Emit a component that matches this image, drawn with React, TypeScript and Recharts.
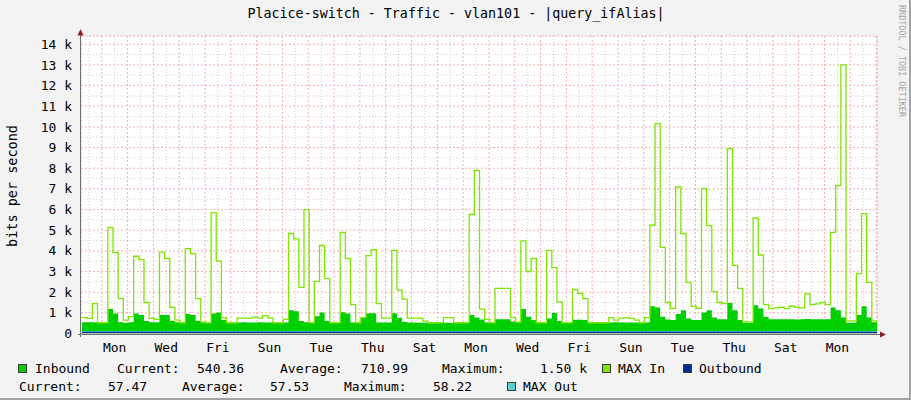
import React from 'react';
import { ComposedChart, Area, Line, XAxis, YAxis, CartesianGrid } from 'recharts';

const FONT = '"DejaVu Sans Mono", "Liberation Mono", monospace';

// one sample every 4.8 h; time is in days counted from the first Monday 00:00
const FIRST_SAMPLE = -0.765;
const SAMPLE_STEP = 0.2;
const X_DOMAIN: [number, number] = [-0.805, 30.035];
const Y_DOMAIN: [number, number] = [0, 14400];

// bits per second
const MAX_IN = [
  770, 730, 1450, 520, 520,
  5130, 3920, 1690, 650, 820,
  3740, 3580, 1500, 730, 680,
  3940, 3630, 1260, 650, 520,
  4110, 3870, 1690, 560, 520,
  5850, 3500, 770, 520, 520,
  740, 740, 740, 790, 740,
  870, 740, 520, 520, 680,
  4840, 4580, 2230, 6000, 520,
  2520, 4260, 2660, 520, 520,
  4890, 3630, 1400, 520, 770,
  3770, 4060, 1450, 740, 740,
  4020, 2100, 1660, 740, 740,
  740, 600, 520, 520, 520,
  770, 770, 520, 520, 520,
  5760, 7900, 1180, 680, 520,
  2180, 2180, 2180, 770, 550,
  4480, 3000, 3630, 520, 520,
  4020, 3190, 1530, 520, 520,
  2130, 1940, 1690, 520, 520,
  520, 520, 770, 650, 740,
  770, 730, 650, 520, 770,
  5240, 10160, 4170, 1500, 1220,
  7090, 4840, 2470, 1310, 1220,
  7010, 5220, 2030, 1500, 1450,
  8950, 3300, 2180, 560, 560,
  5590, 3800, 1400, 1200, 1240,
  1270, 1200, 1320, 1270, 1240,
  1930, 1400, 1430, 1500, 1400,
  4890, 7160, 13000, 610, 610,
  2900, 5800, 2470, 610, 610,
];

const INBOUND = [
  550, 550, 550, 520, 520,
  1180, 970, 550, 520, 550,
  970, 890, 610, 550, 550,
  890, 890, 610, 550, 520,
  940, 890, 610, 530, 520,
  970, 1020, 650, 520, 520,
  530, 540, 530, 530, 540,
  530, 530, 520, 520, 530,
  1130, 1080, 600, 550, 520,
  840, 1020, 610, 520, 520,
  1030, 970, 530, 520, 770,
  980, 980, 530, 530, 530,
  980, 760, 560, 530, 530,
  520, 520, 500, 520, 520,
  520, 510, 520, 520, 520,
  890, 770, 680, 530, 520,
  690, 690, 690, 580, 550,
  1180, 810, 650, 520, 520,
  730, 1000, 610, 520, 520,
  660, 660, 650, 520, 520,
  520, 520, 530, 540, 530,
  530, 530, 530, 520, 530,
  1320, 1260, 810, 680, 650,
  940, 1130, 730, 650, 650,
  1020, 1130, 770, 690, 690,
  1480, 1130, 650, 520, 520,
  1370, 1210, 810, 690, 690,
  690, 690, 690, 680, 690,
  700, 690, 690, 690, 690,
  1260, 1130, 770, 520, 520,
  890, 1320, 770, 540, 540,
];

// outbound is flat, one reading per day
const OUT_TIMES = [
  -0.765, 0.235, 1.235, 2.235, 3.235, 4.235, 5.235, 6.235, 7.235, 8.235, 9.235,
  10.235, 11.235, 12.235, 13.235, 14.235, 15.235, 16.235, 17.235, 18.235, 19.235,
  20.235, 21.235, 22.235, 23.235, 24.235, 25.235, 26.235, 27.235, 28.235, 29.235, 30.035,
];
const OUTBOUND = [
  57.6, 57.5, 57.4, 57.6, 57.5, 57.7, 57.5, 57.4, 57.6, 57.5, 57.5,
  57.6, 57.4, 57.5, 57.6, 57.5, 57.7, 57.5, 57.4, 57.5, 57.6,
  57.5, 57.5, 57.4, 57.6, 57.5, 57.6, 57.5, 57.4, 57.5, 57.5, 57.47,
];
const MAX_OUT = [
  58.0, 57.9, 58.1, 58.0, 57.9, 58.2, 58.0, 57.9, 58.1, 58.0, 58.0,
  58.1, 57.9, 58.0, 58.1, 58.0, 58.2, 58.0, 57.9, 58.0, 58.1,
  58.0, 58.0, 57.9, 58.1, 58.0, 58.1, 58.0, 57.9, 58.0, 58.0, 58.0,
];

const DAY_TICKS = [0.5, 2.5, 4.5, 6.5, 8.5, 10.5, 12.5, 14.5, 16.5, 18.5, 20.5, 22.5, 24.5, 26.5, 28.5];
const DAY_LABELS = ['Mon', 'Wed', 'Fri', 'Sun', 'Tue', 'Thu', 'Sat', 'Mon', 'Wed', 'Fri', 'Sun', 'Tue', 'Thu', 'Sat', 'Mon'];
const Y_TICKS = [0, 1000, 2000, 3000, 4000, 5000, 6000, 7000, 8000, 9000, 10000, 11000, 12000, 13000, 14000];
const Y_MINOR = Y_TICKS.slice(0, 14).map(v => v + 500);
const MIDNIGHTS = Array.from({ length: 31 }, (_, i) => i);
const NOONS = Array.from({ length: 31 }, (_, i) => i - 0.5);

const tickStyle = { fontFamily: FONT, fontSize: 13, fill: '#000' };

const Box = ({ x, y, color }: { x: number; y: number; color: string }) => (
  <rect x={x + 0.5} y={y + 0.5} width={8} height={8} fill={color} stroke="#3c3c3c" strokeWidth={1} />
);

const App: React.FC = () => {
  const table = MAX_IN.map((v, i) => ({
    t: +(FIRST_SAMPLE + i * SAMPLE_STEP).toFixed(3),
    maxIn: v,
    inbound: INBOUND[i],
  }));
  const outTable = OUT_TIMES.map((t, i) => ({ t, outbound: OUTBOUND[i], maxOut: MAX_OUT[i] }));

  return (
    <div style={{ position: 'absolute', left: 0, top: 0, width: 911, height: 400, background: '#F3F3F3' }}>
      <ComposedChart
        width={911}
        height={400}
        data={table}
        margin={{ top: 36, right: 34, bottom: 36.5, left: 21 }}
      >
        <XAxis
          dataKey="t"
          type="number"
          domain={X_DOMAIN}
          allowDataOverflow
          ticks={DAY_TICKS}
          interval={0}
          tickFormatter={(v: number) => DAY_LABELS[DAY_TICKS.indexOf(v)]}
          tick={tickStyle}
          axisLine={false}
          tickLine={false}
          tickSize={0}
          tickMargin={9}
          height={30}
        />
        <XAxis xAxisId="major" dataKey="t" type="number" domain={X_DOMAIN} allowDataOverflow ticks={MIDNIGHTS} interval={0} hide />
        <XAxis xAxisId="minor" dataKey="t" type="number" domain={X_DOMAIN} allowDataOverflow ticks={NOONS} interval={0} hide />
        <YAxis
          type="number"
          domain={Y_DOMAIN}
          allowDataOverflow
          ticks={Y_TICKS}
          interval={0}
          width={60}
          tickFormatter={(v: number) => (v === 0 ? '0' : `${v / 1000} k`)}
          tick={tickStyle}
          axisLine={false}
          tickLine={false}
          tickSize={0}
          tickMargin={9}
        />
        <YAxis yAxisId="minor" type="number" domain={Y_DOMAIN} allowDataOverflow ticks={Y_MINOR} interval={0} hide />
        <CartesianGrid xAxisId="minor" yAxisId="minor" stroke="#D0D0D0" strokeDasharray="1 2" fill="#FFFFFF" fillOpacity={1} />
        <CartesianGrid xAxisId="major" stroke="#F4B2B2" strokeDasharray="2 2" />
        <Area
          type="stepAfter"
          dataKey="inbound"
          fill="#00CF00"
          fillOpacity={1}
          stroke="none"
          dot={false}
          activeDot={false}
          isAnimationActive={false}
        />
        <Line
          type="stepAfter"
          dataKey="maxIn"
          stroke="#7EE600"
          strokeWidth={1.3}
          dot={false}
          activeDot={false}
          isAnimationActive={false}
        />
        <Line
          data={outTable}
          type="stepAfter"
          dataKey="maxOut"
          stroke="#55D1D1"
          strokeWidth={2.5}
          dot={false}
          activeDot={false}
          isAnimationActive={false}
        />
        <Line
          data={outTable}
          type="stepAfter"
          dataKey="outbound"
          stroke="#002A97"
          strokeWidth={1.2}
          dot={false}
          activeDot={false}
          isAnimationActive={false}
        />
      </ComposedChart>

      <svg
        width={911}
        height={400}
        style={{ position: 'absolute', left: 0, top: 0, pointerEvents: 'none' }}
        fontFamily={FONT}
      >
        {/* frame */}
        <rect x={909} y={0} width={2} height={400} fill="#A2A2A2" />
        <rect x={0} y={398} width={911} height={2} fill="#A2A2A2" />

        {/* axes with arrows */}
        <line x1={80.5} y1={32} x2={80.5} y2={337} stroke="#707070" strokeWidth={1} />
        <line x1={78} y1={334.5} x2={881} y2={334.5} stroke="#707070" strokeWidth={1} />
        <polygon points="77.5,35.5 83.5,35.5 80.5,29" fill="#8E1D1D" />
        <polygon points="880,331.5 880,337.5 886,334.5" fill="#8E1D1D" />

        <text x={456} y={18} textAnchor="middle" fontSize={13.3} textLength={417} lengthAdjust="spacingAndGlyphs" fill="#000">
          Placice-switch - Traffic - vlan101 - |query_ifAlias|
        </text>

        <text
          x={16.5}
          y={186}
          transform="rotate(-90 16.5 186)"
          textAnchor="middle"
          fontSize={13.3}
          textLength={122}
          lengthAdjust="spacingAndGlyphs"
          fill="#000"
        >
          bits per second
        </text>

        <text
          x={899}
          y={5}
          transform="rotate(90 899 5)"
          fontSize={8.5}
          textLength={112}
          lengthAdjust="spacingAndGlyphs"
          fill="#A5A5A5"
        >
          RRDTOOL / TOBI OETIKER
        </text>

        {/* legend */}
        <g fontSize={13} fill="#000">
          <Box x={18} y={364} color="#00CF00" />
          <text x={35} y={373}>Inbound</text>
          <text x={117} y={373}>Current:</text>
          <text x={197} y={373}>540.36</text>
          <text x={280} y={373}>Average:</text>
          <text x={361} y={373}>710.99</text>
          <text x={442} y={373}>Maximum:</text>
          <text x={540} y={373}>1.50 k</text>
          <Box x={602} y={364} color="#7EE600" />
          <text x={618} y={373}>MAX In</text>
          <Box x={683} y={364} color="#002A97" />
          <text x={699} y={373}>Outbound</text>

          <text x={19} y={391}>Current:</text>
          <text x={108} y={391}>57.47</text>
          <text x={182} y={391}>Average:</text>
          <text x={270} y={391}>57.53</text>
          <text x={344} y={391}>Maximum:</text>
          <text x={433} y={391}>58.22</text>
          <Box x={507} y={382} color="#55D1D1" />
          <text x={523} y={391}>MAX Out</text>
        </g>
      </svg>
    </div>
  );
};

export default App;
